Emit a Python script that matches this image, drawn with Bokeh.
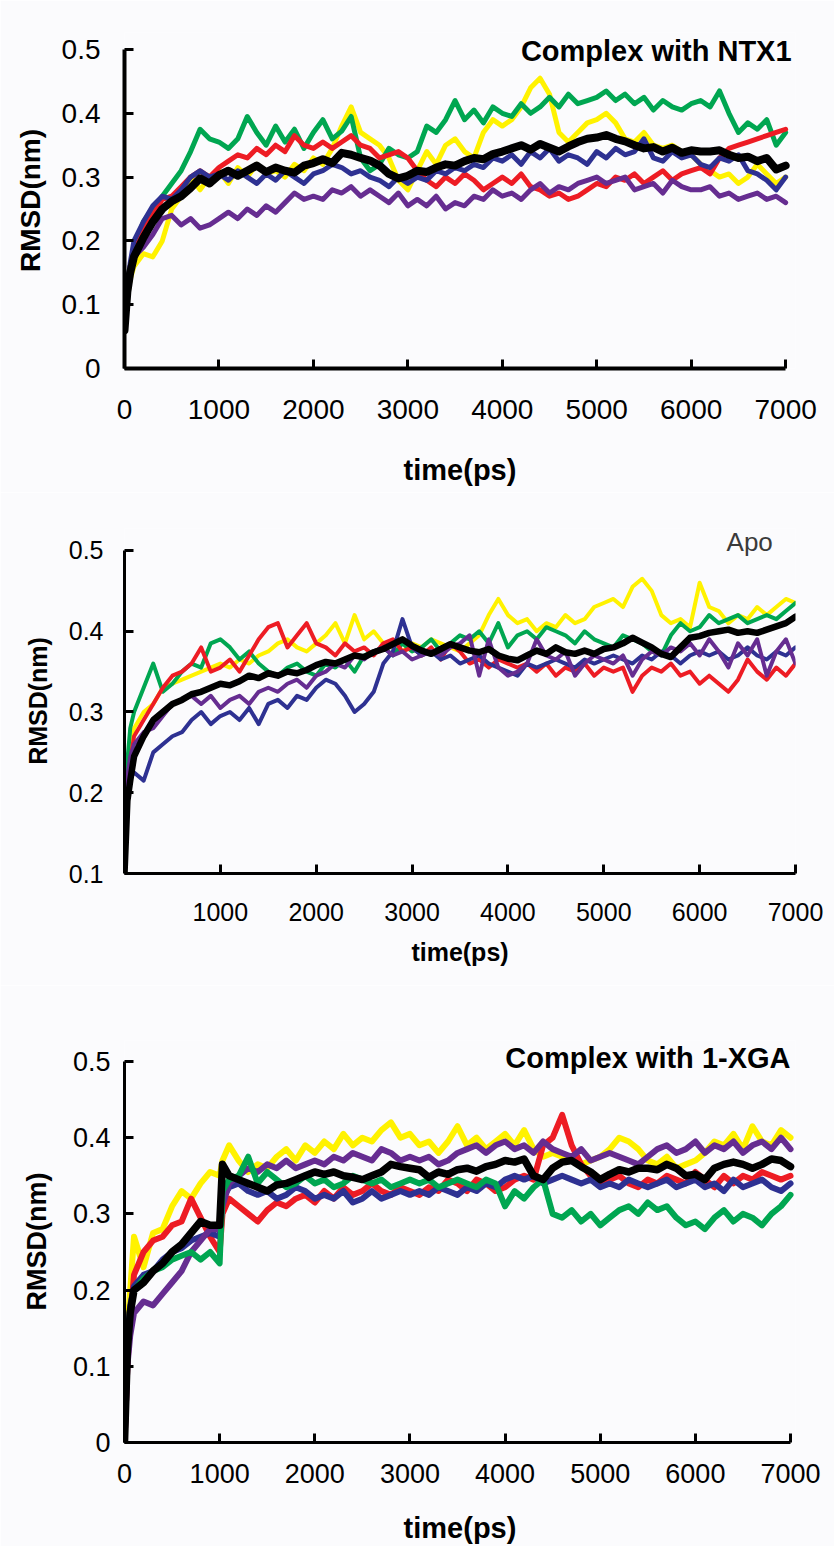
from bokeh.plotting import figure
from bokeh.layouts import column
from bokeh.models import Range1d, FixedTicker, CustomJSTickFormatter, Label
from bokeh.embed import file_html
from bokeh.resources import INLINE

# ---------------- time axes (ps) ----------------
TIME = [0, 30, 60] + list(range(100, 7001, 100))
TIME_XGA = [0, 30, 60] + list(range(100, 1001, 100)) + [1030] + list(range(1100, 7001, 100))

X_TICKS_FULL = [0, 1000, 2000, 3000, 4000, 5000, 6000, 7000]
X_TICKS_APO = [1000, 2000, 3000, 4000, 5000, 6000, 7000]
Y_TICKS_FULL = [0, 0.1, 0.2, 0.3, 0.4, 0.5]
Y_TICKS_APO = [0.1, 0.2, 0.3, 0.4, 0.5]

# ---------------- Complex with NTX1 ----------------
ntx1_yellow = [0.06, 0.11, 0.14,
    0.16, 0.18, 0.175, 0.2, 0.25, 0.27, 0.3, 0.28, 0.3, 0.31,
    0.29, 0.315, 0.3, 0.32, 0.305, 0.31, 0.3, 0.32, 0.31, 0.33,
    0.32, 0.345, 0.38, 0.41, 0.37, 0.36, 0.35, 0.33, 0.295, 0.28,
    0.31, 0.34, 0.32, 0.35, 0.36, 0.34, 0.33, 0.37, 0.39, 0.38,
    0.39, 0.41, 0.44, 0.455, 0.43, 0.37, 0.355, 0.37, 0.385, 0.39,
    0.40, 0.385, 0.36, 0.355, 0.37, 0.35, 0.345, 0.35, 0.34, 0.335,
    0.32, 0.31, 0.30, 0.305, 0.29, 0.30, 0.32, 0.305, 0.29, 0.30]
ntx1_green = [0.06, 0.13, 0.16,
    0.19, 0.23, 0.25, 0.27, 0.29, 0.31, 0.34, 0.375, 0.36, 0.355,
    0.345, 0.36, 0.395, 0.37, 0.35, 0.38, 0.355, 0.375, 0.345, 0.37,
    0.39, 0.36, 0.372, 0.395, 0.33, 0.31, 0.32, 0.345, 0.335, 0.33,
    0.34, 0.38, 0.37, 0.39, 0.42, 0.39, 0.405, 0.385, 0.41, 0.40,
    0.395, 0.415, 0.4, 0.41, 0.425, 0.41, 0.43, 0.415, 0.42, 0.425,
    0.435, 0.42, 0.43, 0.415, 0.425, 0.405, 0.42, 0.41, 0.405, 0.415,
    0.42, 0.41, 0.435, 0.4, 0.37, 0.385, 0.375, 0.39, 0.35, 0.37]
ntx1_red = [0.06, 0.13, 0.16,
    0.19, 0.22, 0.24, 0.265, 0.27, 0.285, 0.3, 0.31, 0.3, 0.315,
    0.325, 0.335, 0.33, 0.345, 0.335, 0.35, 0.34, 0.365, 0.35, 0.345,
    0.355, 0.345, 0.355, 0.365, 0.35, 0.345, 0.33, 0.335, 0.34, 0.33,
    0.31, 0.295, 0.285, 0.3, 0.29, 0.305, 0.295, 0.28, 0.29, 0.3,
    0.29, 0.305, 0.285, 0.28, 0.27, 0.275, 0.265, 0.27, 0.28, 0.29,
    0.285, 0.3, 0.295, 0.305, 0.29, 0.3, 0.31, 0.295, 0.305, 0.31,
    0.315, 0.305, 0.33, 0.345, 0.35, 0.355, 0.36, 0.365, 0.37, 0.375]
ntx1_blue = [0.06, 0.13, 0.165,
    0.2, 0.23, 0.255, 0.27, 0.265, 0.28, 0.3, 0.31, 0.3, 0.305,
    0.295, 0.31, 0.3, 0.29, 0.305, 0.295, 0.31, 0.3, 0.29, 0.305,
    0.31, 0.32, 0.315, 0.305, 0.31, 0.3, 0.295, 0.285, 0.3, 0.29,
    0.3, 0.295, 0.31, 0.305, 0.315, 0.31, 0.32, 0.315, 0.33, 0.325,
    0.335, 0.32, 0.34, 0.33, 0.345, 0.325, 0.335, 0.33, 0.32, 0.34,
    0.33, 0.345, 0.335, 0.34, 0.36, 0.33, 0.325, 0.34, 0.33, 0.335,
    0.32, 0.315, 0.33, 0.325, 0.335, 0.31, 0.305, 0.295, 0.28, 0.30]
ntx1_purple = [0.06, 0.12, 0.15,
    0.175, 0.19, 0.21, 0.235, 0.24, 0.225, 0.235, 0.22, 0.225, 0.235,
    0.245, 0.235, 0.25, 0.24, 0.255, 0.245, 0.26, 0.275, 0.265, 0.27,
    0.265, 0.28, 0.275, 0.285, 0.27, 0.28, 0.27, 0.26, 0.275, 0.255,
    0.265, 0.255, 0.27, 0.25, 0.26, 0.255, 0.27, 0.265, 0.28, 0.27,
    0.275, 0.265, 0.28, 0.29, 0.275, 0.285, 0.28, 0.29, 0.295, 0.3,
    0.29, 0.295, 0.3, 0.28, 0.285, 0.29, 0.275, 0.295, 0.285, 0.28,
    0.28, 0.285, 0.27, 0.275, 0.265, 0.27, 0.275, 0.265, 0.27, 0.26]
ntx1_black = [0.06, 0.12, 0.15,
    0.175, 0.205, 0.23, 0.25, 0.262, 0.27, 0.283, 0.298, 0.29, 0.303,
    0.31, 0.302, 0.31, 0.318, 0.308, 0.315, 0.31, 0.307, 0.318, 0.322,
    0.328, 0.322, 0.338, 0.335, 0.33, 0.326, 0.318, 0.305, 0.298, 0.302,
    0.31, 0.308, 0.315, 0.32, 0.318, 0.325, 0.33, 0.328, 0.336, 0.34,
    0.345, 0.35, 0.343, 0.352, 0.346, 0.34, 0.348, 0.355, 0.36, 0.362,
    0.366, 0.36, 0.356, 0.35, 0.345, 0.347, 0.34, 0.346, 0.338, 0.342,
    0.34, 0.34, 0.342, 0.335, 0.33, 0.332, 0.325, 0.33, 0.312, 0.318]

# ---------------- Apo ----------------
apo_yellow = [0.1, 0.22, 0.26,
    0.28, 0.30, 0.31, 0.33, 0.335, 0.34, 0.345, 0.35, 0.355, 0.36,
    0.355, 0.365, 0.36, 0.37, 0.375, 0.385, 0.39, 0.38, 0.375, 0.385,
    0.395, 0.41, 0.385, 0.42, 0.39, 0.40, 0.385, 0.38, 0.375, 0.385,
    0.38, 0.39, 0.385, 0.38, 0.375, 0.385, 0.395, 0.42, 0.44, 0.42,
    0.41, 0.415, 0.40, 0.41, 0.405, 0.42, 0.41, 0.415, 0.43, 0.435,
    0.44, 0.43, 0.455, 0.465, 0.45, 0.42, 0.41, 0.415, 0.405, 0.46,
    0.43, 0.425, 0.41, 0.42, 0.415, 0.43, 0.42, 0.43, 0.44, 0.435]
apo_green = [0.1, 0.24, 0.28,
    0.30, 0.33, 0.36, 0.325, 0.335, 0.35, 0.36, 0.355, 0.385, 0.39,
    0.38, 0.365, 0.375, 0.36, 0.35, 0.345, 0.355, 0.36, 0.35, 0.345,
    0.36, 0.355, 0.365, 0.35, 0.37, 0.375, 0.38, 0.37, 0.385, 0.375,
    0.38, 0.39, 0.375, 0.385, 0.395, 0.39, 0.40, 0.385, 0.41, 0.38,
    0.395, 0.40, 0.39, 0.405, 0.40, 0.395, 0.385, 0.40, 0.39, 0.385,
    0.38, 0.395, 0.39, 0.385, 0.375, 0.37, 0.395, 0.41, 0.40, 0.405,
    0.42, 0.41, 0.415, 0.42, 0.41, 0.415, 0.42, 0.415, 0.425, 0.435]
apo_red = [0.1, 0.2, 0.24,
    0.27, 0.29, 0.31, 0.33, 0.345, 0.35, 0.36, 0.38, 0.35, 0.355,
    0.365, 0.35, 0.37, 0.39, 0.405, 0.41, 0.38, 0.395, 0.41, 0.385,
    0.38, 0.37, 0.385, 0.375, 0.38, 0.37, 0.385, 0.39, 0.375, 0.38,
    0.37, 0.38, 0.365, 0.385, 0.375, 0.36, 0.365, 0.355, 0.365, 0.36,
    0.355, 0.36, 0.35, 0.36, 0.345, 0.355, 0.35, 0.36, 0.345, 0.355,
    0.35, 0.355, 0.325, 0.345, 0.355, 0.35, 0.36, 0.345, 0.35, 0.335,
    0.345, 0.335, 0.325, 0.34, 0.365, 0.35, 0.34, 0.355, 0.345, 0.36]
apo_blue = [0.1, 0.2, 0.22,
    0.225, 0.215, 0.25, 0.26, 0.27, 0.275, 0.29, 0.30, 0.285, 0.295,
    0.30, 0.29, 0.305, 0.285, 0.31, 0.315, 0.305, 0.32, 0.315, 0.33,
    0.34, 0.335, 0.32, 0.30, 0.31, 0.325, 0.36, 0.375, 0.415, 0.38,
    0.37, 0.375, 0.365, 0.37, 0.36, 0.365, 0.37, 0.36, 0.355, 0.35,
    0.345, 0.36, 0.355, 0.36, 0.365, 0.36, 0.355, 0.365, 0.36, 0.365,
    0.37, 0.365, 0.36, 0.37, 0.365, 0.375, 0.37, 0.36, 0.37, 0.375,
    0.37, 0.375, 0.365, 0.37, 0.38, 0.37, 0.365, 0.375, 0.37, 0.38]
apo_purple = [0.1, 0.22, 0.245,
    0.26, 0.275, 0.28, 0.295, 0.31, 0.315, 0.32, 0.31, 0.32, 0.305,
    0.315, 0.32, 0.31, 0.325, 0.33, 0.325, 0.335, 0.34, 0.33, 0.345,
    0.35, 0.36, 0.355, 0.37, 0.365, 0.375, 0.38, 0.37, 0.375, 0.365,
    0.37, 0.375, 0.37, 0.38, 0.385, 0.395, 0.345, 0.39, 0.355, 0.345,
    0.35, 0.36, 0.39, 0.37, 0.365, 0.375, 0.345, 0.36, 0.37, 0.365,
    0.36, 0.37, 0.345, 0.365, 0.375, 0.37, 0.38, 0.375, 0.385, 0.37,
    0.39, 0.375, 0.355, 0.385, 0.37, 0.39, 0.345, 0.375, 0.39, 0.36]
apo_black = [0.1, 0.19, 0.215,
    0.245, 0.27, 0.29, 0.30, 0.31, 0.315, 0.322, 0.325, 0.33, 0.335,
    0.333, 0.338, 0.345, 0.342, 0.348, 0.345, 0.35, 0.348, 0.352, 0.358,
    0.362, 0.36, 0.365, 0.37, 0.368, 0.374, 0.378, 0.384, 0.39, 0.382,
    0.376, 0.372, 0.378, 0.384, 0.38, 0.376, 0.374, 0.378, 0.37, 0.366,
    0.364, 0.37, 0.376, 0.372, 0.38, 0.374, 0.372, 0.376, 0.372, 0.378,
    0.38, 0.385, 0.392, 0.386, 0.38, 0.372, 0.368, 0.38, 0.392, 0.394,
    0.398, 0.4, 0.402, 0.398, 0.4, 0.398, 0.402, 0.406, 0.41, 0.418]

# ---------------- Complex with 1-XGA ----------------
xga_yellow = [0.0, 0.15, 0.2,
    0.27, 0.23, 0.275, 0.28, 0.31, 0.33, 0.32, 0.34, 0.355, 0.35,
    0.37,
    0.39, 0.37, 0.355, 0.365, 0.36, 0.375, 0.385, 0.37, 0.39, 0.38,
    0.395, 0.385, 0.405, 0.39, 0.40, 0.395, 0.41, 0.42, 0.40, 0.405,
    0.39, 0.395, 0.38, 0.395, 0.415, 0.39, 0.4, 0.385, 0.395, 0.405,
    0.39, 0.41, 0.385, 0.375, 0.38, 0.375, 0.37, 0.365, 0.37, 0.375,
    0.385, 0.4, 0.395, 0.385, 0.37, 0.365, 0.375, 0.36, 0.365, 0.37,
    0.38, 0.395, 0.39, 0.405, 0.385, 0.415, 0.395, 0.39, 0.41, 0.4]
xga_green = [0.0, 0.13, 0.17,
    0.2, 0.215, 0.225, 0.23, 0.24, 0.245, 0.25, 0.24, 0.25, 0.235,
    0.33,
    0.345, 0.35, 0.375, 0.34, 0.355, 0.345, 0.335, 0.34, 0.35, 0.34,
    0.345, 0.335, 0.34, 0.35, 0.345, 0.34, 0.345, 0.335, 0.34, 0.345,
    0.34, 0.345, 0.335, 0.34, 0.345, 0.34, 0.335, 0.345, 0.34, 0.31,
    0.33, 0.32, 0.335, 0.345, 0.3, 0.295, 0.305, 0.29, 0.3, 0.285,
    0.295, 0.305, 0.31, 0.3, 0.315, 0.305, 0.31, 0.295, 0.285, 0.29,
    0.28, 0.295, 0.305, 0.29, 0.3, 0.295, 0.285, 0.3, 0.31, 0.325]
xga_red = [0.0, 0.1, 0.16,
    0.22, 0.25, 0.265, 0.27, 0.285, 0.29, 0.32, 0.295, 0.27, 0.25,
    0.3,
    0.32, 0.31, 0.3, 0.29, 0.305, 0.315, 0.31, 0.32, 0.325, 0.315,
    0.33, 0.32, 0.335, 0.325, 0.33, 0.34, 0.33, 0.325, 0.335, 0.33,
    0.325, 0.335, 0.33, 0.345, 0.34, 0.33, 0.345, 0.34, 0.33, 0.335,
    0.345, 0.35, 0.345, 0.39, 0.40, 0.43, 0.39, 0.365, 0.35, 0.34,
    0.345, 0.35, 0.34, 0.335, 0.345, 0.34, 0.35, 0.345, 0.34, 0.355,
    0.345, 0.335, 0.35, 0.34, 0.35, 0.345, 0.355, 0.35, 0.345, 0.35]
xga_blue = [0.0, 0.14, 0.18,
    0.205, 0.22, 0.225, 0.24, 0.25, 0.255, 0.265, 0.27, 0.275, 0.27,
    0.32,
    0.335, 0.34, 0.33, 0.325, 0.33, 0.32, 0.325, 0.335, 0.33, 0.32,
    0.325, 0.32, 0.33, 0.315, 0.32, 0.33, 0.32, 0.325, 0.33, 0.325,
    0.33, 0.325, 0.335, 0.33, 0.325, 0.335, 0.33, 0.34, 0.335, 0.345,
    0.35, 0.345, 0.35, 0.34, 0.345, 0.35, 0.345, 0.34, 0.345, 0.335,
    0.34, 0.335, 0.345, 0.34, 0.335, 0.34, 0.345, 0.335, 0.34, 0.345,
    0.335, 0.34, 0.33, 0.345, 0.335, 0.34, 0.345, 0.335, 0.33, 0.34]
xga_purple = [0.0, 0.1, 0.14,
    0.17, 0.185, 0.18, 0.195, 0.21, 0.225, 0.25, 0.265, 0.28, 0.28,
    0.31,
    0.34, 0.35, 0.36, 0.355, 0.365, 0.36, 0.37, 0.36, 0.365, 0.37,
    0.365, 0.375, 0.37, 0.38, 0.375, 0.37, 0.385, 0.38, 0.37, 0.375,
    0.37, 0.375, 0.365, 0.37, 0.38, 0.385, 0.39, 0.38, 0.39, 0.395,
    0.385, 0.39, 0.38, 0.395, 0.385, 0.38, 0.375, 0.385, 0.37, 0.375,
    0.38, 0.375, 0.37, 0.365, 0.375, 0.385, 0.39, 0.38, 0.385, 0.395,
    0.38, 0.39, 0.385, 0.395, 0.38, 0.39, 0.395, 0.385, 0.4, 0.385]
xga_black = [0.0, 0.12, 0.17,
    0.2, 0.21, 0.225, 0.235, 0.25, 0.26, 0.275, 0.29, 0.285, 0.285,
    0.365,
    0.35, 0.345, 0.34, 0.335, 0.33, 0.338, 0.34, 0.345, 0.35, 0.355,
    0.352, 0.355, 0.35, 0.348, 0.345, 0.35, 0.355, 0.365, 0.362, 0.36,
    0.358, 0.348, 0.355, 0.352, 0.358, 0.36, 0.356, 0.362, 0.365, 0.37,
    0.368, 0.372, 0.35, 0.345, 0.36, 0.368, 0.37, 0.362, 0.355, 0.345,
    0.352, 0.358, 0.355, 0.36, 0.36, 0.358, 0.365, 0.36, 0.35, 0.352,
    0.345, 0.36, 0.365, 0.368, 0.365, 0.36, 0.365, 0.372, 0.37, 0.362]

for s in (ntx1_yellow, ntx1_green, ntx1_red, ntx1_blue, ntx1_purple, ntx1_black,
          apo_yellow, apo_green, apo_red, apo_blue, apo_purple, apo_black):
    assert len(s) == len(TIME), len(s)
for s in (xga_yellow, xga_green, xga_red, xga_blue, xga_purple, xga_black):
    assert len(s) == len(TIME_XGA), len(s)

COLORS = {"yellow": "#fff200", "green": "#00a651", "red": "#ed1c24",
          "blue": "#2e3192", "purple": "#662d91", "black": "#000000"}
FONT = "Liberation Sans"
WIDTH = 834
BG = "#fbfbfd"


def make_panel(height, borders, xr, yr, ybounds, yticks, xticks, t, series, lw, black_w, axis_w,
               tick_fs, xlab_fs, ylab_fs, x_std, xlab_std, y_std, ylab_std,
               title, tx, ty, t_fs, t_style, t_color, t_align):
    left, right, top, bottom = borders
    p = figure(width=WIDTH, height=height, x_range=Range1d(*xr), y_range=Range1d(*yr),
               output_backend="svg", toolbar_location=None,
               min_border_left=left, min_border_right=right,
               min_border_top=top, min_border_bottom=bottom)
    p.outline_line_color = None
    p.background_fill_color = BG
    p.border_fill_color = BG
    p.xgrid.visible = False
    p.ygrid.visible = False
    for name, ys in series:
        p.line(t, ys, line_color=COLORS[name],
               line_width=black_w if name == "black" else lw,
               line_join="round", line_cap="round")
    p.xaxis.ticker = FixedTicker(ticks=xticks)
    p.yaxis.ticker = FixedTicker(ticks=yticks)
    p.xaxis.bounds = (0, 7000)
    p.yaxis.bounds = ybounds
    p.xaxis.formatter = CustomJSTickFormatter(code="return tick.toFixed(0);")
    p.yaxis.formatter = CustomJSTickFormatter(
        code="return Math.abs(tick) < 1e-9 ? '0' : tick.toFixed(1);")
    for ax in (p.xaxis[0], p.yaxis[0]):
        ax.axis_line_width = axis_w
        ax.axis_line_color = "black"
        ax.major_tick_in = 9
        ax.major_tick_out = 0
        ax.major_tick_line_width = 3
        ax.major_tick_line_color = "black"
        ax.minor_tick_in = 0
        ax.minor_tick_out = 0
        ax.major_label_text_font = FONT
        ax.major_label_text_font_size = tick_fs
        ax.major_label_text_color = "black"
        ax.axis_label_text_font = FONT
        ax.axis_label_text_font_style = "bold"
        ax.axis_label_text_color = "black"
    p.xaxis.axis_label = "time(ps)"
    p.yaxis.axis_label = "RMSD(nm)"
    p.xaxis.axis_label_text_font_size = xlab_fs
    p.yaxis.axis_label_text_font_size = ylab_fs
    p.xaxis.major_label_standoff = x_std
    p.xaxis.axis_label_standoff = xlab_std
    p.yaxis.major_label_standoff = y_std
    p.yaxis.axis_label_standoff = ylab_std
    lab = Label(x=tx, y=ty, text=title, text_font=FONT, text_font_size=t_fs,
                text_font_style=t_style, text_color=t_color,
                text_align=t_align, text_baseline="middle")
    p.add_layout(lab)
    return p


# panel 1: frame x 121..801, y (0.5 at 49, 0 at 368), top extended to 32
p1 = make_panel(492, (121, WIDTH - 801, 32, 492 - 368), (0, 7104.5), (0, 0.52665), (0, 0.5),
                Y_TICKS_FULL, X_TICKS_FULL, TIME,
                [("yellow", ntx1_yellow), ("green", ntx1_green), ("red", ntx1_red),
                 ("blue", ntx1_blue), ("purple", ntx1_purple), ("black", ntx1_black)],
                5, 8, 4, "28px", "29px", "28px", 31, 32, 24, 13,
                "Complex with NTX1", 7063, 0.4984, "29px", "bold", "black", "right")

# panel 2: page offset 492; frame x 121..795, y (0.5 at 58, 0.1 at 381), top extended to 36
p2 = make_panel(493, (121, WIDTH - 795, 36, 493 - 381), (0, 7000), (0.1, 0.52724), (0.1, 0.5),
                Y_TICKS_APO, X_TICKS_APO, TIME,
                [("yellow", apo_yellow), ("green", apo_green), ("red", apo_red),
                 ("blue", apo_blue), ("purple", apo_purple), ("black", apo_black)],
                4, 6.5, 3, "25px", "25px", "25px", 29, 14, 21, 14,
                "Apo", 6522, 0.5111, "26px", "normal", "#3a3a3a", "center")

# panel 3: page offset 985; frame x 124..797, y (0.5 at 76, 0 at 457), top extended to 55
p3 = make_panel(561, (124, WIDTH - 797, 55, 561 - 457), (0, 7052.4), (0, 0.52756), (0, 0.5),
                Y_TICKS_FULL, X_TICKS_FULL, TIME_XGA,
                [("yellow", xga_yellow), ("red", xga_red), ("blue", xga_blue),
                 ("purple", xga_purple), ("green", xga_green), ("black", xga_black)],
                6, 7.5, 3, "27px", "29px", "27px", 21, 26, 14, 18,
                "Complex with 1-XGA", 7000, 0.504, "29px", "bold", "black", "right")

layout = column(p1, p2, p3, spacing=0)
open("out.html", "w").write(file_html(layout, INLINE))
